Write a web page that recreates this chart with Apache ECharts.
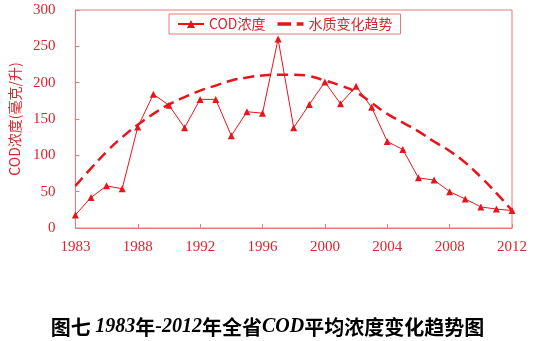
<!DOCTYPE html>
<html><head><meta charset="utf-8">
<script src="https://cdn.jsdelivr.net/npm/echarts@6/dist/echarts.min.js"></script>
<style>html,body{margin:0;padding:0;background:#fff}#c{width:535px;height:341px}</style>
</head><body><div id="c"></div>
<script>
const categories = ['1983','1985','1986','1987','1988','1989','1990','1991','1992','1993','1994','1995','1996','1997','1998','1999','2000','2001','2002','2003','2004','2005','2006','2007','2008','2009','2010','2011','2012'];
const codValues = [18,42,58,54,139,184,169,138,177,177,127,160,158,260,138,170,201,171,195,166,119,108,69,66,50,40,29,26,24];
const trendValues = [58,82,105,125,142,157,170,180,189,196,203,207,210,211,211,209,203,196,187,172,157,145,133,119,106,90,70,48,24];
const yTicks = {min:0, max:300, interval:50};
const seriesNames = ['COD浓度','水质变化趋势'];
const yName = 'COD浓度(毫克/升)';
const caption = '{a|图七 }{b|1983}{a|年}{b|-2012}{a|年全省}{b|COD}{a|平均浓度变化趋势图}';

const red = '#e8141c', txt = '#d9262e', axisC = '#e57b7b';
const chart = echarts.init(document.getElementById('c'));
chart.setOption({
  animation:false,
  title:{text:caption, left:'center', top:312, textStyle:{rich:{
    a:{fontFamily:'Noto Sans CJK SC', fontWeight:'bold', fontSize:20, color:'#000'},
    b:{fontFamily:'Liberation Serif', fontWeight:'bold', fontStyle:'italic', fontSize:20, color:'#000'}}}},
  grid:{left:70, right:23, top:10, bottom:113, show:true, borderColor:axisC, borderWidth:1},
  legend:{left:169, top:14, padding:[3,8,3,8], itemGap:12, itemWidth:26, itemHeight:10,
    borderColor:axisC, borderWidth:1,
    textStyle:{fontFamily:'Noto Sans CJK SC', fontSize:14, color:txt},
    data:[{name:seriesNames[0]},
          {name:seriesNames[1], icon:'path://M0,0h12v3h-12z M17,0h6v3h-6z', itemStyle:{color:red}}]},
  xAxis:{type:'category', data:categories, boundaryGap:false,
    axisLine:{lineStyle:{color:axisC}},
    axisTick:{inside:true, length:4, interval:3, lineStyle:{color:axisC}},
    axisLabel:{interval:3, margin:12, fontFamily:'Liberation Serif', fontSize:15, color:txt}},
  yAxis:{type:'value', min:yTicks.min, max:yTicks.max, interval:yTicks.interval,
    name:yName, nameLocation:'middle', nameGap:50, nameRotate:90,
    nameTextStyle:{fontFamily:'Noto Sans CJK SC', fontSize:14, color:txt},
    splitLine:{show:false},
    axisLine:{show:true, lineStyle:{color:axisC}},
    axisTick:{show:true, inside:true, length:4, lineStyle:{color:axisC}},
    axisLabel:{margin:20, fontFamily:'Liberation Serif', fontSize:15, color:txt}},
  series:[
    {name:seriesNames[0], type:'line', data:codValues, symbol:'triangle', symbolSize:7,
      itemStyle:{color:red}, lineStyle:{color:red, width:1}, z:3},
    {name:seriesNames[1], type:'line', data:trendValues, smooth:true, symbol:'none',
      itemStyle:{color:red}, lineStyle:{color:red, width:2.5, type:[11,6]}, z:2}
  ]
});
</script></body></html>
